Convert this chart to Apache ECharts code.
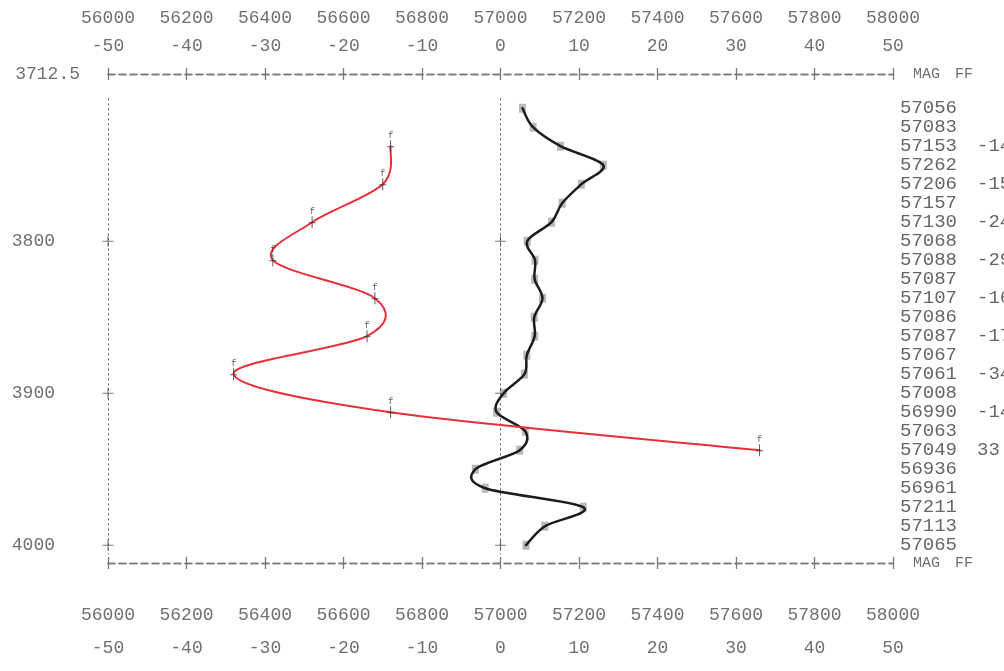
<!DOCTYPE html>
<html><head><meta charset="utf-8">
<script src="https://cdn.jsdelivr.net/npm/echarts@6/dist/echarts.min.js"></script>
<style>html,body{margin:0;padding:0;background:#fff}#c{width:1004px;height:671px}</style>
</head><body><div id="c"></div>
<script>
// ---- data ----
const magStations = [3712.5, 3725, 3737.5, 3750, 3762.5, 3775, 3787.5, 3800, 3812.5, 3825, 3837.5, 3850,
                     3862.5, 3875, 3887.5, 3900, 3912.5, 3925, 3937.5, 3950, 3962.5, 3975, 3987.5, 4000];
const magValues = [57056, 57083, 57153, 57262, 57206, 57157, 57130, 57068, 57088, 57087, 57107, 57086,
                   57087, 57067, 57061, 57008, 56990, 57063, 57049, 56936, 56961, 57211, 57113, 57065];
const ffStations = [3737.5, 3762.5, 3787.5, 3812.5, 3837.5, 3862.5, 3887.5, 3912.5, 3937.5];
const ffValues = [-14, -15, -24, -29, -16, -17, -34, -14, 33];
const depthTickValues = [3690, 3800, 3900, 4000];
const depthTickLabels = ['3712.5', '3800', '3900', '4000'];
const crossMag = [56000, 57000];
const crossDepths = [3800, 3900, 4000];
const guideRange = [3706, 4006];

// ---- style ----
const FONT = '"Liberation Mono", "DejaVu Sans Mono", monospace';
const TXT = '#707070';
const BORDER = {show: true, lineStyle: {color: '#7a7a7a', width: 1.3, type: [7, 4]}};
const yMin = 3690, yMax = 4011.7;

function xAx(pos, min, max, interval, margin, inside, name, nameGap) {
  return {
    type: 'value', position: pos, min: min, max: max, interval: interval,
    axisLine: BORDER,
    axisTick: {show: true, inside: inside, length: 6, lineStyle: {color: '#7a7a7a', width: 1.3}},
    splitLine: {show: false},
    axisLabel: {margin: margin, fontFamily: FONT, fontSize: 18, color: TXT, formatter: v => String(v)},
    name: name, nameLocation: 'end', nameGap: nameGap,
    nameTextStyle: {fontFamily: FONT, fontSize: 15, color: TXT}
  };
}

// Catmull-Rom curve through pixel points (rendering only)
function splinePath(pts) {
  let d = 'M' + pts[0][0] + ' ' + pts[0][1];
  for (let i = 0; i < pts.length - 1; i++) {
    const p0 = pts[i - 1] || pts[i], p1 = pts[i], p2 = pts[i + 1], p3 = pts[i + 2] || pts[i + 1];
    const c1x = p1[0] + (p2[0] - p0[0]) / 6, c1y = p1[1] + (p2[1] - p0[1]) / 6;
    const c2x = p2[0] - (p3[0] - p1[0]) / 6, c2y = p2[1] - (p3[1] - p1[1]) / 6;
    d += ' C' + c1x + ' ' + c1y + ' ' + c2x + ' ' + c2y + ' ' + p2[0] + ' ' + p2[1];
  }
  return d;
}
function curveSeries(xIdx, xs, ys, color, width, z) {
  return {
    type: 'custom', coordinateSystem: 'cartesian2d', xAxisIndex: xIdx, yAxisIndex: 0, z: z,
    data: ys.map((s, i) => [xs[i], s]), encode: {x: 0, y: 1}, silent: true,
    renderItem: (params, api) => {
      if (params.dataIndex !== 0) return null;
      const pts = ys.map((s, i) => api.coord([xs[i], s]));
      return {type: 'path', shape: {pathData: splinePath(pts)},
              style: {fill: 'none', stroke: color, lineWidth: width, lineJoin: 'round', lineCap: 'round'}};
    }
  };
}

const chart = echarts.init(document.getElementById('c'), null, {renderer: 'canvas'});
chart.setOption({
  animation: false,
  backgroundColor: '#ffffff',
  grid: {left: 108, right: 111, top: 74, bottom: 108, outerBoundsMode: 'none', containLabel: false},
  xAxis: [
    xAx('top', 56000, 58000, 200, 47, false, 'MAG', 20),
    xAx('top', -50, 50, 10, 19, true, 'FF', 62),
    xAx('bottom', 56000, 58000, 200, 43, false, 'MAG', 20),
    xAx('bottom', -50, 50, 10, 76, true, 'FF', 62)
  ],
  yAxis: [
    {type: 'value', inverse: true, min: yMin, max: yMax, position: 'left',
     axisLine: {show: false}, axisTick: {show: false}, splitLine: {show: false},
     axisLabel: {customValues: depthTickValues, margin: 28, align: 'right',
       formatter: v => {
         const i = depthTickValues.indexOf(v);
         return i === 0 ? '{a|' + depthTickLabels[i] + '}' : '{b|' + depthTickLabels[i] + '}';
       },
       rich: {a: {fontFamily: FONT, fontSize: 18, color: TXT},
              b: {fontFamily: FONT, fontSize: 18, color: TXT, padding: [0, 25, 0, 0]}}}},
    {type: 'value', inverse: true, min: yMin, max: yMax, position: 'right',
     axisLine: {show: false}, axisTick: {show: false}, splitLine: {show: false},
     axisLabel: {customValues: magStations, margin: 7, align: 'left', fontFamily: FONT, fontSize: 19, color: '#666',
       formatter: v => String(magValues[magStations.indexOf(v)])}},
    {type: 'value', inverse: true, min: yMin, max: yMax, position: 'right', offset: 76,
     axisLine: {show: false}, axisTick: {show: false}, splitLine: {show: false},
     axisLabel: {customValues: ffStations, margin: 8, align: 'left', fontFamily: FONT, fontSize: 19, color: '#666',
       formatter: v => String(ffValues[ffStations.indexOf(v)])}}
  ],
  series: [
    {type: 'scatter', xAxisIndex: 0, yAxisIndex: 0, z: 3,
     data: magStations.map((s, i) => [magValues[i], s]),
     symbol: 'rect', symbolSize: [7, 9], itemStyle: {color: '#a8a8a8'},
     markLine: {silent: true, symbol: ['none', 'none'],
       label: {show: false},
       lineStyle: {color: '#555', width: 1, type: [2, 3]},
       data: crossMag.map(m => [{coord: [m, guideRange[0]]}, {coord: [m, guideRange[1]]}])}},
    curveSeries(0, magValues, magStations, '#1c1c1c', 2.5, 4),
    curveSeries(1, ffValues, ffStations, '#e8303a', 2, 5),
    {type: 'scatter', xAxisIndex: 1, yAxisIndex: 0, z: 6,
     data: ffStations.map((s, i) => [ffValues[i], s]),
     symbol: 'path://M3,0h1v12h-1z M0,6h7v1h-7z', symbolSize: [7, 12],
     itemStyle: {color: '#333'},
     label: {show: true, formatter: 'f', position: 'top', distance: 0, fontFamily: FONT, fontSize: 9, color: '#333'}},
    {type: 'scatter', xAxisIndex: 0, yAxisIndex: 0, z: 2,
     data: crossMag.flatMap(m => crossDepths.map(d => [m, d])),
     symbol: 'path://M4.5,0h1v10h-1z M0,4.5h10v1h-10z', symbolSize: 11,
     itemStyle: {color: '#555'}}
  ]
});
</script></body></html>
